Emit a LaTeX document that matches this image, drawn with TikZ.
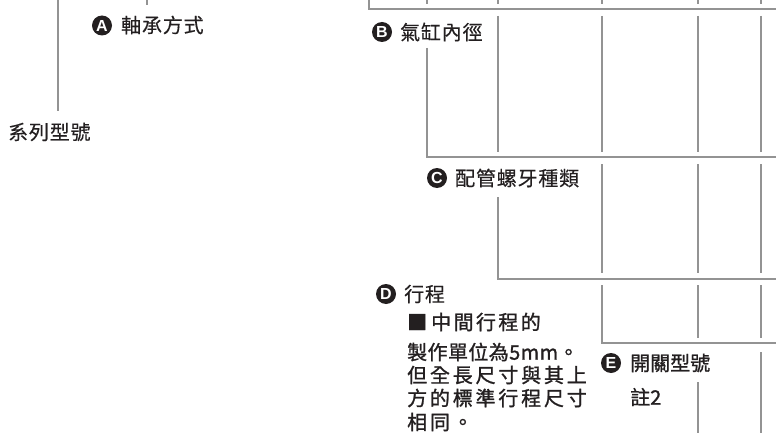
\documentclass[tikz,border=0pt]{standalone}
\usepackage{fontspec}
\setmainfont{Noto Sans CJK TC}[FakeBold=0.3]
\newfontfamily\cjkmed[FakeBold=1.2]{Noto Sans CJK TC}
\newfontfamily\circfont{Liberation Sans}
\definecolor{ink}{HTML}{231F20}
\definecolor{linegray}{HTML}{939393}
\tikzset{
  ln/.style={draw=linegray, line width=2.2pt},
  lbl/.style={anchor=west, inner sep=0pt, text=ink, font=\fontsize{20}{20}\selectfont\addfontfeature{LetterSpace=4}},
  lblm/.style={anchor=west, inner sep=0pt, text=ink, font=\cjkmed\fontsize{20}{20}\selectfont},
  badge/.style={circle, fill=ink, minimum size=20pt, inner sep=0pt, text=white, font=\circfont\bfseries\fontsize{16}{16}\selectfont}
}
\begin{document}
\begin{tikzpicture}[x=1pt,y=-1pt]
\useasboundingbox (0,0) rectangle (776,433);
% bracket lines
\coordinate (top58) at (58,0); \coordinate (end58) at (58,111);
\draw[ln] (top58) -- (end58);
\draw[ln] (147,0) -- (147,5);
\draw[ln] (369,0) -- (369,9) -- (777,9);
\foreach \x in {427,498,602,698,761} \draw[ln] (\x,0) -- (\x,4);
% level B
\foreach \x in {498,602,698,761} \draw[ln] (\x,16) -- (\x,152);
\draw[ln] (427,48) -- (427,157) -- (777,157);
% level C
\foreach \x in {602,698,761} \draw[ln] (\x,164) -- (\x,273);
\draw[ln] (498,197) -- (498,279) -- (777,279);
% level D
\foreach \x in {698,761} \draw[ln] (\x,285) -- (\x,338);
\draw[ln] (602,285) -- (602,343) -- (777,343);
% level E
\draw[ln] (761,352) -- (761,434);
\draw[ln] (698,382) -- (698,434);
% labels
\node[lbl] (series) at (8,132) {系列型號};
\node[badge] (bA) at (102,25.5) {A};
\node[lbl] (tA) at (121,25) {軸承方式};
\node[badge] (bB) at (382,32) {B};
\node[lbl] (tB) at (400,32) {氣缸內徑};
\node[badge] (bC) at (437,178) {C};
\node[lbl] (tC) at (455,178) {配管螺牙種類};
\node[badge] (bD) at (386,294) {D};
\node[lbl] (tD) at (404,294) {行程};
\node[lblm] (d1) at (407,322) {■\hspace{4pt}\addfontfeature{LetterSpace=12}中間行程的};
\node[lblm] (d2) at (407,352) {\addfontfeature{LetterSpace=2}製作單位為5mm。};
\node[lblm] (d3) at (407,375) {\addfontfeature{LetterSpace=14}但全長尺寸與其上};
\node[lblm] (d4) at (407,398) {\addfontfeature{LetterSpace=14}方的標準行程尺寸};
\node[lblm] (d5) at (407,422) {\addfontfeature{LetterSpace=14}相同。};
\node[badge] (bE) at (611,363) {E};
\node[lblm] (tE) at (630,363) {開關型號};
\node[lblm] (nE) at (630,397) {註2};
\end{tikzpicture}
\end{document}
